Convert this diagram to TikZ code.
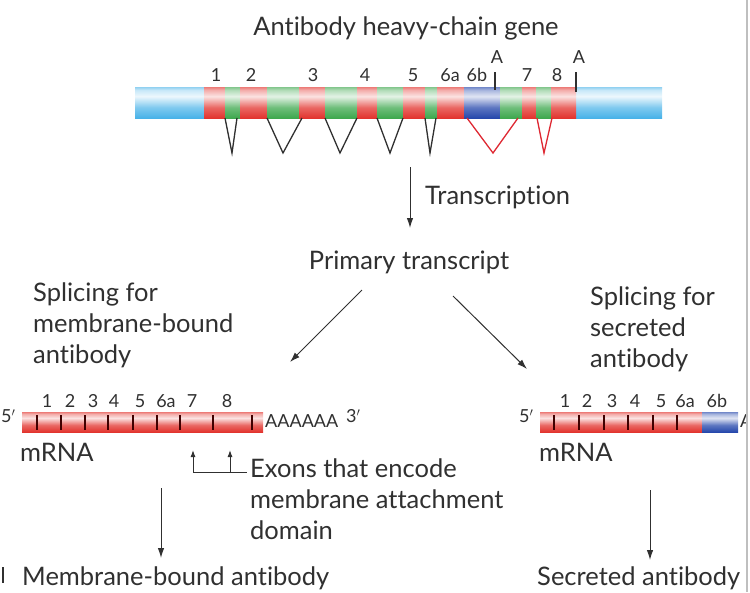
\documentclass[tikz,border=0pt]{standalone}
\usepackage{fontspec}
\setmainfont{Lato}[Ligatures={NoCommon}]
\usetikzlibrary{arrows.meta,positioning}
\definecolor{exred}{RGB}{226,52,46}
\definecolor{exgreen}{RGB}{62,168,78}
\definecolor{exblue}{RGB}{38,72,172}
\definecolor{skyblue}{RGB}{72,178,232}
\definecolor{txtgray}{RGB}{48,48,48}
\definecolor{splred}{RGB}{222,40,50}
\pgfdeclareverticalshading{redsh}{100bp}{color(0bp)=(exred); color(25bp)=(exred); color(42bp)=(exred!75!white);
  color(60bp)=(exred!14!white); color(70bp)=(exred!40!white); color(75bp)=(exred!65!white); color(100bp)=(exred!65!white)}
\pgfdeclareverticalshading{greensh}{100bp}{color(0bp)=(exgreen); color(25bp)=(exgreen); color(42bp)=(exgreen!75!white);
  color(60bp)=(exgreen!14!white); color(70bp)=(exgreen!40!white); color(75bp)=(exgreen!65!white); color(100bp)=(exgreen!65!white)}
\pgfdeclareverticalshading{bluesh}{100bp}{color(0bp)=(exblue); color(25bp)=(exblue); color(42bp)=(exblue!75!white);
  color(60bp)=(exblue!14!white); color(70bp)=(exblue!40!white); color(75bp)=(exblue!65!white); color(100bp)=(exblue!65!white)}
\pgfdeclareverticalshading{skysh}{100bp}{color(0bp)=(skyblue); color(25bp)=(skyblue); color(42bp)=(skyblue!70!white);
  color(60bp)=(skyblue!10!white); color(70bp)=(skyblue!30!white); color(75bp)=(skyblue!60!white); color(100bp)=(skyblue!60!white)}
\tikzstyle{lbl} = [inner sep=0pt, text=txtgray, font=\fontsize{25.5}{31}\selectfont]
\tikzstyle{num} = [inner sep=0pt, text=txtgray, font=\fontsize{18}{20}\selectfont]
\tikzstyle{arr} = [-{Latex[length=10pt,width=6.5pt]}, line width=1pt, draw=txtgray]
\tikzstyle{splice} = [line width=1.3pt, draw=txtgray]
\tikzstyle{mtick} = [line width=1.1pt, draw=black!75!red]
\newcommand{\gseg}[3]{\shade[shading=#1] (#2,87) rectangle (#3,118);}
\newcommand{\mseg}[3]{\shade[shading=#1] (#2,412) rectangle (#3,432);}

\begin{document}
\begin{tikzpicture}[x=1pt,y=-1pt]
  \useasboundingbox (0,0) rectangle (750,592);
  \begin{scope}
  \clip (0,0) rectangle (745,592);

  % gene
  \node[lbl] (title) at (406,28) {Antibody heavy-chain gene};
  \gseg{skysh}{135}{662}
  \gseg{redsh}{204}{225} \gseg{greensh}{225}{240}
  \gseg{redsh}{240}{267} \gseg{greensh}{267}{299}
  \gseg{redsh}{299}{325} \gseg{greensh}{325}{357}
  \gseg{redsh}{357}{377} \gseg{greensh}{377}{403}
  \gseg{redsh}{403}{425} \gseg{greensh}{425}{437}
  \gseg{redsh}{437}{464} \gseg{bluesh}{464}{500}
  \gseg{greensh}{500}{522} \gseg{redsh}{522}{536}
  \gseg{greensh}{536}{551} \gseg{redsh}{551}{576}
  \foreach \x/\t in {216/1,251/2,313/3,365/4,413/5,450/6a,477/6b,527/7,557/8}
    \node[num] (g\t) at (\x,75) {\t};
  \node[num] (pa1) at (497,57) {A};
  \node[num] (pa2) at (579,57) {A};
  \draw[splice] (495,72) -- (495,90);
  \draw[splice] (576,72) -- (576,92);
  \draw[splice] (225,118) -- (232,153) -- (237,118);
  \draw[splice] (267,118) -- (283,153) -- (302,118);
  \draw[splice] (325,118) -- (340,153) -- (357,118);
  \draw[splice] (377,118) -- (390,153) -- (403,118);
  \draw[splice] (425,118) -- (430,153) -- (436,118);
  \draw[splice, draw=splred] (467,118) -- (493,153) -- (518,118);
  \draw[splice, draw=splred] (537,118) -- (544,153) -- (552,118);

  % transcript
  \coordinate (t1) at (410,167);
  \coordinate (t2) at (410,228);
  \draw[arr] (t1) -- (t2);
  \node[lbl, anchor=west] (tr) at (425,197) {Transcription};
  \node[lbl] (prim) at (409,262) {Primary transcript};
  \coordinate (l1) at (362,290);
  \coordinate (l2) at (290,362);
  \coordinate (r1) at (453,296);
  \coordinate (r2) at (527,369);
  \draw[arr] (l1) -- (l2);
  \draw[arr] (r1) -- (r2);
  \node[lbl, anchor=north west, align=left] (spm) at (33,283) {Splicing for\\membrane-bound\\antibody};
  \node[lbl, anchor=north west, align=left] (sps) at (590,287) {Splicing for\\secreted\\antibody};

  % membrane mRNA
  \mseg{redsh}{22}{263}
  \foreach \x in {37,61,85,108,133,157,180,213,252}
    \draw[mtick] (\x,415) -- (\x,430);
  \foreach \x/\t in {47/1,70/2,93/3,114/4,140/5,166/6a,192/7,227/8}
    \node[num] (m\t) at (\x,401) {\t};
  \node[num, anchor=west] (m5p) at (1,416) {5$'$};
  \node[num, anchor=west] (mpa) at (265,421) {AAAAAA};
  \node[num, anchor=west] (m3p) at (346,416) {3$'$};
  \node[lbl, anchor=west] (mrna1) at (20,452) {mRNA};
  \coordinate (e1) at (193,472);
  \coordinate (e2) at (230,472);
  \coordinate (e3) at (247,472);
  \draw[line width=0.9pt, draw=txtgray] (e1) -- (e3);
  \draw[arr, -{Latex[length=7pt,width=5pt]}] (e1) -- (193,450);
  \draw[arr, -{Latex[length=7pt,width=5pt]}] (e2) -- (230,450);
  \node[lbl, anchor=north west, align=left] (exn) at (250,459) {Exons that encode\\membrane attachment\\domain};
  \coordinate (d1) at (161,488);
  \coordinate (d2) at (161,558);
  \draw[arr] (d1) -- (d2);
  \node[lbl, anchor=west] (mab) at (22,578) {Membrane-bound antibody};
  \draw[line width=1.2pt, draw=txtgray] (3,567) -- (3,583);

  % secreted mRNA
  \mseg{redsh}{540}{702}
  \mseg{bluesh}{702}{738}
  \foreach \x in {554,579,604,628,653,677}
    \draw[mtick] (\x,415) -- (\x,430);
  \foreach \x/\t in {565/1,587/2,612/3,635/4,661/5,685/6a,717/6b}
    \node[num] (s\t) at (\x,401) {\t};
  \node[num, anchor=west] (s5p) at (519,416) {5$'$};
  \node[num, anchor=west] (spa) at (740,421) {A};
  \node[lbl, anchor=west] (mrna2) at (539,452) {mRNA};
  \coordinate (f1) at (650,490);
  \coordinate (f2) at (650,560);
  \draw[arr] (f1) -- (f2);
  \node[lbl, anchor=west] (sab) at (537,578) {Secreted antibody};
  \end{scope}
  \draw[line width=1.5pt, draw=black!25] (747,0) -- (747,592);
\end{tikzpicture}
\end{document}
